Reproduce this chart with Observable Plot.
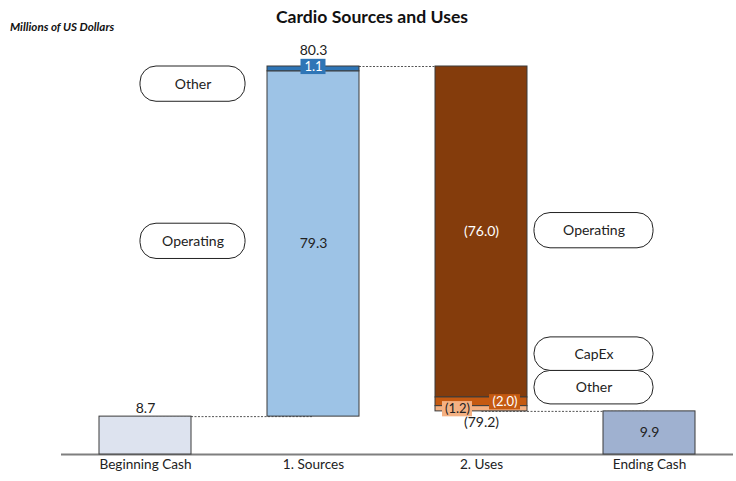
<!DOCTYPE html>
<html><head><meta charset="utf-8">
<script src="https://cdn.jsdelivr.net/npm/d3@7"></script>
<script src="https://cdn.jsdelivr.net/npm/@observablehq/plot@0.6"></script>
<style>
body{margin:0;background:#fff;font-family:Lato,"Noto Sans",sans-serif;}
#wrap{position:relative;width:736px;height:481px;}
#title{position:absolute;left:4px;width:736px;top:6px;text-align:center;font-weight:bold;font-size:17.6px;color:#111;}
#sub{position:absolute;left:10px;top:20px;font-weight:bold;font-style:italic;font-size:11.6px;color:#111;}
#chart{position:absolute;left:0;top:0;}
</style></head>
<body>
<div id="wrap"><div id="chart"></div><div id="title">Cardio Sources and Uses</div><div id="sub">Millions of US Dollars</div></div>
<script>
const categories = ["Beginning Cash", "1. Sources", "2. Uses", "Ending Cash"];
const beginningCash = 8.7;
const sourceNames = ["Operating", "Other"];
const sourceValues = [79.3, 1.1];
const sourceLabels = ["79.3", "1.1"];
const sourcesTotalLabel = "80.3";
const useNames = ["Operating", "CapEx", "Other"];
const useValues = [-76.0, -2.0, -1.2];
const useLabels = ["(76.0)", "(2.0)", "(1.2)"];
const usesTotalLabel = "(79.2)";
const endingCash = 9.9;
const endingLabel = "9.9";
const beginningLabel = "8.7";

const sourceColors = ["#9dc3e6", "#2e75b6"];
const useColors = ["#843c0c", "#c55a11", "#f4b183"];

// build stacked segments
const bars = [];
bars.push({cat: categories[0], y1: 0, y2: beginningCash, fill: "#dde3ef"});
let acc = beginningCash;
const srcSeg = sourceValues.map((v, i) => {
  const s = {cat: categories[1], y1: acc, y2: acc + v, fill: sourceColors[i], name: sourceNames[i], label: sourceLabels[i]};
  acc += v; bars.push(s); return s;
});
const sourcesTop = acc;
const useSeg = useValues.map((v, i) => {
  const s = {cat: categories[2], y1: acc + v, y2: acc, fill: useColors[i], name: useNames[i], label: useLabels[i]};
  acc += v; bars.push(s); return s;
});
const usesEnd = acc;
bars.push({cat: categories[3], y1: 0, y2: endingCash, fill: "#9fb1d0"});

const links = [
  {a: categories[0], b: categories[1], y: beginningCash},
  {a: categories[1], b: categories[2], y: sourcesTop},
  {a: categories[2], b: categories[3], y: usesEnd}
];

// callouts (pill labels)
const ch = 8.1; // callout height in data units
const leftCallouts = [
  {text: sourceNames[1], y1: sourcesTop - ch, y2: sourcesTop},
  {text: sourceNames[0], y1: (srcSeg[0].y1 + srcSeg[0].y2) / 2 - ch / 2 + 0.6, y2: (srcSeg[0].y1 + srcSeg[0].y2) / 2 + ch / 2 + 0.6}
];
const opMid = (useSeg[0].y1 + useSeg[0].y2) / 2;
const rightCallouts = [
  {text: useNames[0], y1: opMid - ch / 2 + 0.3, y2: opMid + ch / 2 + 0.3},
  {text: useNames[2], y1: usesEnd + 1.6, y2: usesEnd + 1.6 + ch * 0.95},
  {text: useNames[1], y1: usesEnd + 1.6 + ch * 0.95, y2: usesEnd + 1.6 + ch * 1.9}
];
leftCallouts.forEach(d => d.cat = categories[0]);
rightCallouts.forEach(d => d.cat = categories[2]);

const bh = 1.75; // label box half height (units)
const boxes = [
  {cat: categories[1], y: sourcesTop - 0.1, text: srcSeg[1].label, fill: sourceColors[1], color: "white", dx: 0, w: 25},
  {cat: categories[2], y: (useSeg[1].y1 + useSeg[1].y2) / 2 - 0.1, text: useSeg[1].label, fill: useColors[1], color: "white", dx: 23.5, w: 31},
  {cat: categories[2], y: (useSeg[2].y1 + useSeg[2].y2) / 2 - 0.1, text: useSeg[2].label, fill: useColors[2], color: "#222", dx: -24, w: 30}
];

const font = "Lato, 'Noto Sans', sans-serif";
const marks = [
  Plot.ruleY([0], {stroke: "#7f7f7f", strokeWidth: 2}),
  Plot.link(links, {x1: "a", x2: "b", y1: "y", y2: "y", stroke: "#555", strokeWidth: 1, strokeDasharray: "2,1.5"}),
  Plot.barY(bars, {x: "cat", y1: "y1", y2: "y2", fill: "fill", stroke: "#3a3a3a", strokeWidth: 1}),
  Plot.barY(leftCallouts, {x: "cat", y1: "y1", y2: "y2", dx: 47.5, insetLeft: -6.5, insetRight: -6.5, rx: 16, ry: 16, fill: "white", stroke: "#222", strokeWidth: 1}),
  Plot.text(leftCallouts, {x: "cat", y: d => (d.y1 + d.y2) / 2, dx: 47.5, text: "text", fontSize: 14, fill: "#222"}),
  Plot.barY(rightCallouts, {x: "cat", y1: "y1", y2: "y2", dx: 112.5, insetLeft: -13.5, insetRight: -13.5, rx: 16, ry: 16, fill: "white", stroke: "#222", strokeWidth: 1}),
  Plot.text(rightCallouts, {x: "cat", y: d => (d.y1 + d.y2) / 2, dx: 112.5, text: "text", fontSize: 14, fill: "#222"})
];
boxes.forEach(b => {
  const inset = (92 - b.w) / 2;
  marks.push(Plot.barY([b], {x: "cat", y1: d => d.y - bh, y2: d => d.y + bh, dx: b.dx, insetLeft: inset, insetRight: inset, fill: "fill"}));
  marks.push(Plot.text([b], {x: "cat", y: "y", dx: b.dx, text: "text", fill: b.color, fontSize: 13}));
});
marks.push(
  Plot.text([srcSeg[0]], {x: "cat", y: d => (d.y1 + d.y2) / 2, text: "label", fill: "#222", fontSize: 14}),
  Plot.text([useSeg[0]], {x: "cat", y: d => (d.y1 + d.y2) / 2, text: "label", fill: "white", fontSize: 14}),
  Plot.text([{cat: categories[1], y: sourcesTop}], {x: "cat", y: "y", text: [sourcesTotalLabel], dy: -16, fill: "#222", fontSize: 14}),
  Plot.text([{cat: categories[2], y: usesEnd}], {x: "cat", y: "y", text: [usesTotalLabel], lineAnchor: "top", dy: 6, fill: "#222", fontSize: 14}),
  Plot.text([{cat: categories[0], y: beginningCash}], {x: "cat", y: "y", text: [beginningLabel], lineAnchor: "bottom", dy: -4, fill: "#222", fontSize: 14}),
  Plot.text([{cat: categories[3], y: endingCash / 2}], {x: "cat", y: "y", text: [endingLabel], fill: "#222", fontSize: 14})
);

const chart = Plot.plot({
  width: 736, height: 481,
  marginLeft: 61, marginRight: 3, marginTop: 66, marginBottom: 27,
  style: {fontFamily: font, fontSize: "13.6px", color: "#222", background: "white"},
  x: {domain: categories, paddingInner: 0.452, paddingOuter: 0.226, label: null, tickSize: 0, tickPadding: 5},
  y: {domain: [0, sourcesTop], axis: null},
  marks
});
document.getElementById("chart").appendChild(chart);
</script>
</body></html>
